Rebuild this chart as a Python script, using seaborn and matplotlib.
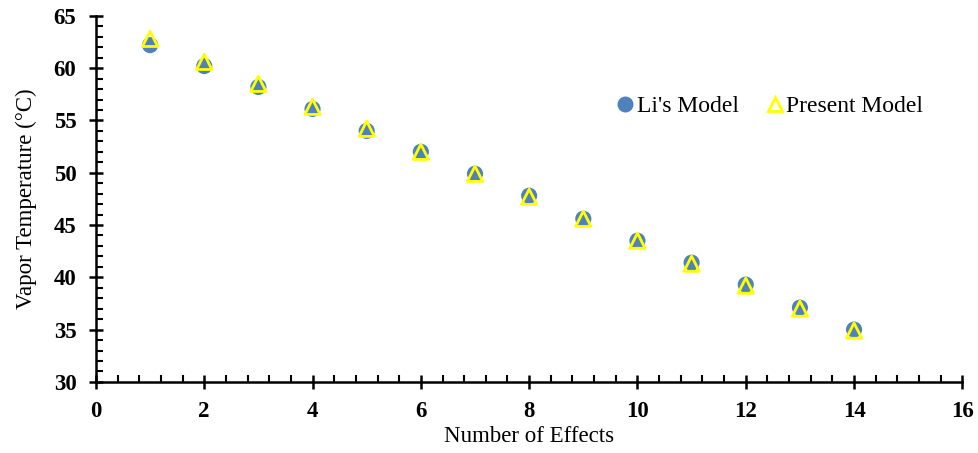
import numpy as np
import pandas as pd
import matplotlib
matplotlib.use("Agg")
import matplotlib.pyplot as plt
from matplotlib.ticker import MultipleLocator
from matplotlib.lines import Line2D
import seaborn as sns

effects = [1, 2, 3, 4, 5, 6, 7, 8, 9, 10, 11, 12, 13, 14]
li_model = [62.2, 60.2, 58.2, 56.1, 54.0, 52.0, 49.9, 47.8, 45.6, 43.5, 41.4, 39.3, 37.1, 35.0]
present_model = [62.8, 60.6, 58.5, 56.3, 54.2, 52.0, 49.9, 47.7, 45.6, 43.5, 41.3, 39.2, 37.0, 34.9]

sns.set_theme(style="white")
plt.rcParams['font.family'] = ['Liberation Serif', 'DejaVu Serif']
plt.rcParams['text.color'] = 'black'
plt.rcParams['axes.labelcolor'] = 'black'

df = pd.DataFrame({"x": effects, "li": li_model, "present": present_model})

fig = plt.figure(figsize=(9.79, 4.53), dpi=100)
ax = fig.add_axes([0.098, 0.157, 0.885, 0.808])

blue = "#4F81BD"
yellow = "#FFFF00"
sns.scatterplot(data=df, x="x", y="li", ax=ax, s=135, color=blue, edgecolor="none", marker="o", zorder=3)
sns.scatterplot(data=df, x="x", y="present", ax=ax, s=120, marker="^", facecolor="none",
                edgecolor=yellow, linewidth=2.0, zorder=4)

ax.set_xlim(0, 16)
ax.set_ylim(30, 65)
ax.xaxis.set_major_locator(MultipleLocator(2))
ax.xaxis.set_minor_locator(MultipleLocator(0.4))
ax.yaxis.set_major_locator(MultipleLocator(5))
ax.yaxis.set_minor_locator(MultipleLocator(1))

for s in ["top", "right"]:
    ax.spines[s].set_visible(False)
for s in ["left", "bottom"]:
    ax.spines[s].set_color("black")
    ax.spines[s].set_linewidth(1.8)

ax.tick_params(axis="both", which="major", direction="inout", length=10, width=1.8,
               colors="black", labelsize=16.5, pad=9, bottom=True, left=True)
ax.tick_params(axis="both", which="minor", direction="in", length=5, width=1.5,
               colors="black", bottom=True, left=True)
for lab in ax.get_xticklabels() + ax.get_yticklabels():
    lab.set_fontweight("bold")

ax.set_xlabel("Number of Effects", fontsize=16.5, labelpad=3, color="black")
ax.set_ylabel("Vapor Temperature (°C)", fontsize=16.5, labelpad=12, color="black")

handles = [
    Line2D([], [], marker="o", linestyle="none", markersize=11.5, markerfacecolor=blue, markeredgecolor="none"),
    Line2D([], [], marker="^", linestyle="none", markersize=9.5, markerfacecolor="none",
           markeredgecolor=yellow, markeredgewidth=2.0),
]
leg = ax.legend(handles, ["Li's Model", "Present Model"], loc="center left", bbox_to_anchor=(0.573, 0.752),
                ncol=2, frameon=False, fontsize=17, handletextpad=0.0, columnspacing=1.0, handlelength=1.0)
for t in leg.get_texts():
    t.set_color("black")

fig.savefig("out.png", dpi=100)
